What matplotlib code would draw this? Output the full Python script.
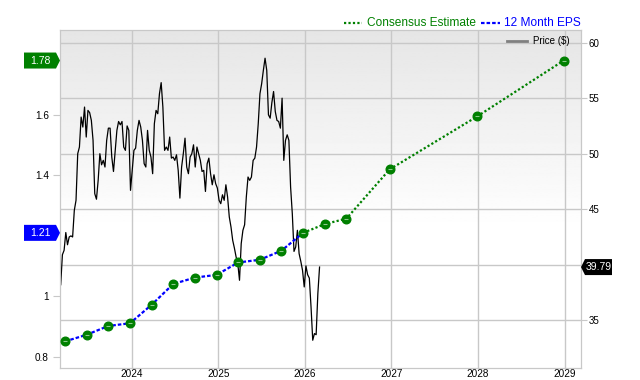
import numpy as np
import matplotlib.pyplot as plt
from matplotlib import transforms
from matplotlib.patches import Polygon
from matplotlib.lines import Line2D
from matplotlib.ticker import FuncFormatter

plt.rcParams['font.family'] = ['Liberation Sans', 'DejaVu Sans']

years = [2024, 2025, 2026, 2027, 2028, 2029]

# 12 month EPS (actual, quarterly)
eps_dates = [2023.23, 2023.48, 2023.73, 2023.98, 2024.23, 2024.48,
             2024.73, 2024.98, 2025.23, 2025.48, 2025.73, 2025.98]
eps_values = [0.851, 0.873, 0.902, 0.911, 0.972, 1.041,
              1.062, 1.071, 1.112, 1.121, 1.151, 1.21]

# consensus estimate
est_dates = [2025.98, 2026.23, 2026.48, 2026.98, 2027.99, 2028.99]
est_values = [1.21, 1.239, 1.257, 1.42, 1.595, 1.78]

# weekly closing price
price_start, price_end = 2023.18, 2026.17
prices = [38.2, 40.9, 41.3, 42.9, 41.8, 42.5, 42.6, 42.5, 44.9, 45.8,
          50.0, 50.6, 53.3, 52.4, 54.2, 51.5, 53.9, 53.7, 53.0, 51.2,
          46.4, 45.9, 47.6, 50.0, 49.0, 49.4, 48.8, 51.2, 52.3, 52.3,
          49.7, 48.4, 50.3, 52.1, 52.9, 52.6, 52.9, 50.6, 50.3, 52.5,
          52.1, 46.7, 48.5, 50.3, 50.5, 52.1, 53.0, 52.4, 51.2, 49.1,
          48.8, 52.1, 50.3, 49.7, 48.2, 52.7, 53.9, 53.6, 55.4, 56.4,
          54.2, 50.3, 50.6, 50.3, 51.5, 49.6, 49.7, 49.4, 49.9, 48.5,
          46.0, 48.8, 50.0, 51.4, 48.8, 48.2, 49.7, 50.0, 50.8, 48.8,
          50.6, 50.0, 49.4, 48.4, 48.5, 46.6, 49.1, 49.6, 48.2, 47.2,
          48.1, 47.3, 46.9, 45.8, 45.5, 46.3, 45.8, 47.2, 46.1, 44.3,
          43.4, 42.2, 41.5, 40.7, 40.1, 38.6, 41.9, 43.1, 43.6, 46.1,
          47.9, 47.6, 47.9, 49.4, 49.6, 50.6, 52.7, 55.4, 56.3, 57.5,
          58.6, 57.5, 53.5, 53.2, 54.6, 55.6, 53.8, 53.0, 52.9, 52.3,
          55.0, 49.4, 51.2, 51.7, 51.2, 47.0, 44.6, 41.2, 41.6, 43.1,
          41.0, 40.3, 39.5, 38.0, 39.9, 39.1, 38.8, 36.2, 33.2, 33.8,
          33.7, 37.4, 39.79]
price_dates = np.linspace(price_start, price_end, len(prices))

last_eps = 1.21
target_eps = 1.78
last_price = 39.79

green = '#008000'
blue = '#0000ff'
grid_c = '#c8c8c8'

fig = plt.figure(figsize=(6.4, 3.8), dpi=100)
ax = fig.add_axes([60 / 640, 12 / 380, 521 / 640, 338 / 380])
ax2 = ax.twinx()

# grey to white background
v = np.linspace(0, 1, 256).reshape(-1, 1)
shade = 1 - 0.1 * np.clip((v - 0.41) / 0.59, 0, 1)
ax.imshow(shade, cmap='gray', vmin=0, vmax=1, extent=[0, 1, 0, 1],
          transform=ax.transAxes, aspect='auto', origin='lower', zorder=0)

ax.plot(price_dates, prices, color='black', lw=0.9, zorder=3)

ax2.plot(eps_dates, eps_values, color=blue, lw=1.6, dashes=(1.6, 0.9), zorder=3)
ax2.plot(est_dates, est_values, color=green, lw=1.6, dashes=(1, 1), zorder=3)
all_d = eps_dates + est_dates[1:]
all_v = eps_values + est_values[1:]
ax2.plot(all_d, all_v, 'o', color=green, ms=6.2, zorder=4)
ax2.plot(all_d, all_v, marker='_', color='#8cc88c', ms=3, mew=0.8, ls='none', zorder=5)

ax.set_xlim(2023.172, 2029.19)
ax.set_ylim(30.7, 61.14)
ax2.set_ylim(0.763, 1.881)

ax.set_axisbelow(True)
ax.grid(True, color=grid_c, lw=1)
ax.set_xticks(years)
ax.tick_params(axis='x', length=0, pad=0.8, labelsize=7.2)
ax.yaxis.tick_right()
ax.set_yticks(range(35, 61, 5))
# label under the price tag is hidden
ax.yaxis.set_major_formatter(FuncFormatter(lambda val, pos: '' if val == 40 else f'{val:g}'))
ax.tick_params(axis='y', length=4, color=grid_c, pad=1.5, labelsize=7)

ax2.yaxis.tick_left()
ax2.set_yticks([0.8, 1.0, 1.4, 1.6])
ax2.yaxis.set_major_formatter(FuncFormatter(lambda val, pos: f'{val:g}'))
ax2.tick_params(axis='y', length=5, color=grid_c, pad=3, labelsize=7.2)

for a in (ax, ax2):
    for s in a.spines.values():
        s.set_color(grid_c)


def tag(axis, xfig, yval, verts, text, color, tx):
    base = transforms.blended_transform_factory(fig.transFigure, axis.transData)
    tr = fig.dpi_scale_trans + transforms.ScaledTranslation(xfig, yval, base)
    poly = Polygon(np.array(verts) / 100, closed=True, transform=tr,
                   fc=color, ec='none', zorder=10)
    fig.add_artist(poly)
    fig.text(tx / 100, 0, text, transform=tr, color='white', fontsize=7.5,
             ha='center', va='center', zorder=11)


left_shape = [(-36, -8), (-4, -8), (0, 0), (-4, 8), (-36, 8)]
tag(ax2, 60 / 640, target_eps, left_shape, '1.78', green, -20)
tag(ax2, 60 / 640, last_eps, left_shape, '1.21', blue, -20)
tag(ax, 581 / 640, last_price, [(0, 0), (4, 8), (31, 8), (31, -8), (4, -8)],
    '39.79', 'black', 17.5)

# legends
ly = 1 - 23 / 380
fig.add_artist(Line2D([344 / 640, 362 / 640], [ly, ly], color=green, lw=1.6, dashes=(1, 1)))
fig.text(367 / 640, ly, 'Consensus Estimate', color=green, fontsize=8.6, va='center')
fig.add_artist(Line2D([481 / 640, 500 / 640], [ly, ly], color=blue, lw=1.6, dashes=(1.6, 0.9)))
fig.text(504 / 640, ly, '12 Month EPS', color=blue, fontsize=8.6, va='center')

py = 1 - 41 / 380
fig.add_artist(Line2D([507 / 640, 527 / 640], [py, py], color='#808080', lw=2))
fig.text(533 / 640, py, 'Price ($)', color='black', fontsize=7, va='center')

fig.savefig('out.png', dpi=100)
